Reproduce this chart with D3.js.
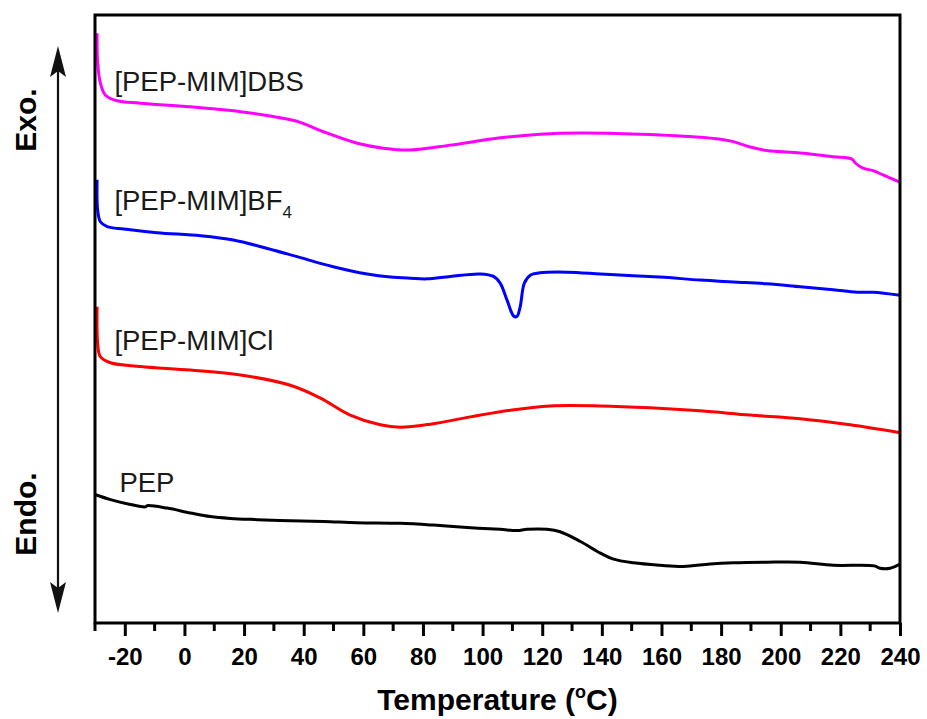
<!DOCTYPE html>
<html>
<head>
<meta charset="utf-8">
<script src="https://cdn.jsdelivr.net/npm/d3@7"></script>
<style>
  body { margin: 0; background: #fff; }
  svg { display: block; font-family: "Liberation Sans", Arial, sans-serif; }
</style>
</head>
<body>
<svg id="dsc" width="927" height="719"></svg>
<script>
// DSC traces (heat flow in arbitrary units, curves offset)
const tempDBS = [-29.3, -29.1, -28.2, -26.5, -22.6, -14.8, 2.0, 18.8, 29.8, 37.9, 46.6, 58.0, 66.7, 75.8, 89.2, 105.9, 119.3, 132.8, 152.9, 173.0, 183.0, 189.7, 195.4, 206.5, 217.6, 223.9, 224.9, 227.6, 231.0, 234.3, 240];
const flowDBS = [97.0, 92.1, 88.8, 86.8, 85.9, 85.5, 84.9, 84.1, 83.3, 82.5, 80.8, 78.9, 78.1, 77.8, 78.6, 79.8, 80.4, 80.6, 80.4, 79.9, 79.3, 78.3, 77.7, 77.3, 76.7, 76.3, 75.7, 74.8, 74.4, 73.7, 72.5];

const tempBF4 = [-29.3, -29.1, -28.2, -25.9, -20.3, -9.2, 5.4, 16.4, 27.8, 38.9, 49.9, 61.3, 69.1, 75.8, 81.4, 89.2, 99.2, 103.7, 105.9, 108.2, 110.4, 111.5, 112.6, 114.0, 116.0, 119.3, 128.3, 139.5, 150.5, 159.6, 173.0, 184.0, 195.4, 206.5, 217.6, 225.6, 231.0, 240];
const flowBF4 = [72.9, 67.9, 66.0, 65.2, 64.8, 64.2, 63.7, 63.0, 61.6, 60.1, 58.6, 57.4, 56.9, 56.7, 56.6, 57.0, 57.4, 57.0, 55.9, 53.1, 50.5, 50.4, 52.0, 55.9, 57.2, 57.6, 57.7, 57.4, 57.1, 56.9, 56.4, 56.1, 55.8, 55.3, 54.8, 54.4, 54.4, 53.9];

const tempCl = [-29.3, -29.1, -28.2, -24.8, -14.8, 2.0, 18.8, 35.5, 45.6, 55.6, 65.7, 72.4, 82.5, 95.9, 109.3, 122.7, 139.5, 156.2, 173.0, 189.7, 206.5, 223.3, 240];
const flowCl = [52.0, 46.0, 43.8, 42.8, 42.2, 41.6, 40.8, 39.1, 37.0, 34.2, 32.6, 32.2, 32.7, 33.9, 35.0, 35.7, 35.7, 35.4, 34.9, 34.2, 33.6, 32.6, 31.3];

const tempPEP = [-29.8, -24.8, -18.1, -13.1, -12.5, -5.8, 2.0, 8.7, 15.4, 24.4, 35.5, 46.7, 57.9, 72.4, 83.6, 94.8, 105.9, 111.5, 114.9, 121.6, 126.0, 132.8, 139.5, 143.9, 150.6, 159.6, 167.4, 176.3, 184.1, 195.3, 206.5, 217.7, 231.4, 233.3, 236.7, 240];
const flowPEP = [21.1, 20.3, 19.5, 19.1, 19.3, 18.9, 18.1, 17.5, 17.2, 17.0, 16.8, 16.7, 16.5, 16.4, 16.1, 15.7, 15.4, 15.2, 15.4, 15.4, 15.0, 13.4, 11.5, 10.5, 9.9, 9.5, 9.3, 9.7, 9.9, 10.0, 10.0, 9.5, 9.4, 9.0, 9.0, 9.7];

const seriesNames = ["[PEP-MIM]DBS", "[PEP-MIM]BF4", "[PEP-MIM]Cl", "PEP"];
const seriesColors = ["#ff00ff", "#0000ff", "#ff0000", "#000000"];
// label anchor (temperature, heat flow) for each curve name
const labelTemp = [-23.5, -23.5, -23.5, -21.8];
const labelFlow = [87.5, 67.9, 44.9, 21.5];

const xTicks = [-20, 0, 20, 40, 60, 80, 100, 120, 140, 160, 180, 200, 220, 240];

const series = [
  { t: tempDBS, f: flowDBS },
  { t: tempBF4, f: flowBF4 },
  { t: tempCl, f: flowCl },
  { t: tempPEP, f: flowPEP }
];

// ************************************
// Layout
// ************************************
const svg = d3.select("#dsc");
const margin = { top: 15, right: 27, bottom: 96, left: 95 };
const width = 927 - margin.left - margin.right;
const height = 719 - margin.top - margin.bottom;

const x = d3.scaleLinear().domain([-30, 240]).range([0, width]);
const y = d3.scaleLinear().domain([0, 100]).range([height, 0]);

const g = svg.append("g").attr("transform", `translate(${margin.left},${margin.top})`);

// Curves
const line = d3.line()
  .x(d => x(d[0]))
  .y(d => y(d[1]))
  .curve(d3.curveCatmullRom.alpha(0.5));

series.forEach((s, i) => {
  const pts = s.t.map((t, k) => [t, s.f[k]]);
  g.append("path")
    .attr("d", line(pts))
    .attr("fill", "none")
    .attr("stroke", seriesColors[i])
    .attr("stroke-width", 3)
    .attr("stroke-linejoin", "round");
});

// Curve labels
seriesNames.forEach((name, i) => {
  const t = g.append("text")
    .attr("x", x(labelTemp[i]))
    .attr("y", y(labelFlow[i]))
    .attr("font-size", 27.5)
    .attr("fill", "#1a1a1a");
  if (name.endsWith("BF4")) {
    t.append("tspan").text("[PEP-MIM]BF");
    t.append("tspan").attr("font-size", 17).attr("dy", 8).text("4");
  } else {
    t.text(name);
  }
});

// Frame
g.append("rect")
  .attr("x", 0).attr("y", 0)
  .attr("width", width).attr("height", height)
  .attr("fill", "none")
  .attr("stroke", "#000")
  .attr("stroke-width", 3);

// X axis: major ticks with labels, minor ticks every 10
const xAxis = g.append("g")
  .attr("transform", `translate(0,${height})`)
  .call(d3.axisBottom(x).tickValues(xTicks).tickSize(13).tickFormat(d => String(d)));
xAxis.select(".domain").remove();
xAxis.selectAll(".tick line").attr("stroke-width", 3);
xAxis.selectAll(".tick text")
  .attr("y", 42)
  .attr("dy", null)
  .attr("font-size", 24)
  .attr("font-weight", "bold")
  .attr("font-family", "Liberation Sans, Arial, sans-serif")
  .attr("fill", "#000");

const minor = d3.range(-30, 241, 10).filter(v => !xTicks.includes(v));
g.append("g")
  .attr("transform", `translate(0,${height})`)
  .selectAll("line")
  .data(minor)
  .join("line")
  .attr("x1", d => x(d)).attr("x2", d => x(d))
  .attr("y1", 0).attr("y2", 8)
  .attr("stroke", "#000")
  .attr("stroke-width", 3);

// X title
const title = svg.append("text")
  .attr("x", margin.left + width / 2)
  .attr("y", 710)
  .attr("text-anchor", "middle")
  .attr("font-size", 30)
  .attr("font-weight", "bold");
title.append("tspan").text("Temperature (");
title.append("tspan").attr("font-size", 18).attr("dy", -12).text("o");
title.append("tspan").attr("dy", 12).text("C)");

// Exo / Endo double arrow
const arrowX = 58, arrowTop = 46, arrowBot = 613;
svg.append("line")
  .attr("x1", arrowX).attr("x2", arrowX)
  .attr("y1", arrowTop + 10).attr("y2", arrowBot - 10)
  .attr("stroke", "#111").attr("stroke-width", 2.2);
svg.append("path")
  .attr("d", `M${arrowX},${arrowTop} L${arrowX - 8},${arrowTop + 31} L${arrowX},${arrowTop + 25} L${arrowX + 8},${arrowTop + 31} Z`)
  .attr("fill", "#111");
svg.append("path")
  .attr("d", `M${arrowX},${arrowBot} L${arrowX - 8},${arrowBot - 31} L${arrowX},${arrowBot - 25} L${arrowX + 8},${arrowBot - 31} Z`)
  .attr("fill", "#111");

svg.append("text")
  .attr("transform", "translate(36,120) rotate(-90)")
  .attr("text-anchor", "middle")
  .attr("font-size", 30)
  .attr("font-weight", "bold")
  .text("Exo.");
svg.append("text")
  .attr("transform", "translate(36,514) rotate(-90)")
  .attr("text-anchor", "middle")
  .attr("font-size", 30)
  .attr("font-weight", "bold")
  .text("Endo.");
</script>
</body>
</html>
